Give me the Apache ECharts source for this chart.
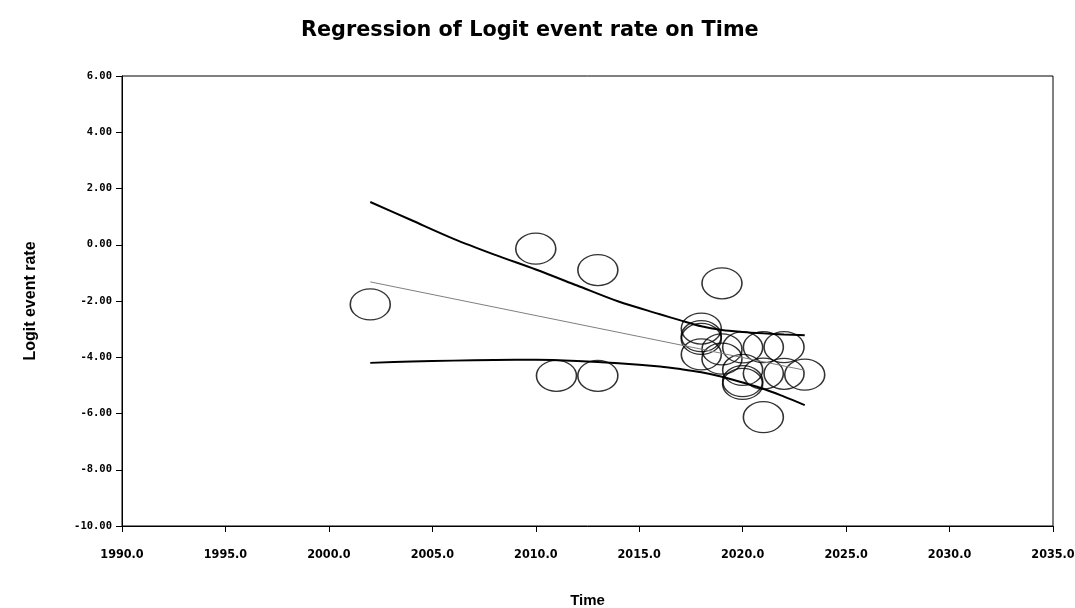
<!DOCTYPE html>
<html><head><meta charset="utf-8">
<script src="https://cdn.jsdelivr.net/npm/echarts@6/dist/echarts.min.js"></script>
<style>html,body{margin:0;padding:0;background:#fff}#c{width:1075px;height:608px}</style>
</head><body><div id="c"></div>
<script>
// Studies (circles)
const studyTime  = [2002, 2010, 2011, 2013, 2013, 2019, 2018, 2018, 2018, 2018, 2019, 2019, 2020, 2020, 2020, 2020, 2021, 2021, 2021, 2022, 2022, 2023];
const studyLogit = [-2.12, -0.14, -4.66, -0.90, -4.66, -1.37, -2.98, -3.25, -3.35, -3.90, -3.72, -4.05, -3.65, -4.45, -4.85, -4.95, -3.64, -4.58, -6.13, -3.64, -4.59, -4.62];
// Regression line and confidence limits
const regTime  = [2002, 2023];
const regLogit = [-1.32, -4.46];
const ciTime  = [2002, 2004, 2006, 2008, 2010, 2012, 2014, 2016, 2017, 2018, 2019, 2020, 2021, 2022, 2023];
const ciUpper = [1.52, 0.87, 0.22, -0.35, -0.88, -1.45, -2.02, -2.47, -2.69, -2.90, -3.03, -3.10, -3.15, -3.19, -3.22];
const ciLower = [-4.20, -4.15, -4.12, -4.10, -4.09, -4.13, -4.21, -4.33, -4.42, -4.53, -4.69, -4.90, -5.12, -5.40, -5.70];
// Axis settings
const xTicks = {min: 1990, max: 2035, interval: 5};
const yTicks = {min: -10, max: 6, interval: 2};

const zip = (a, b) => a.map((v, i) => [v, b[i]]);
const chart = echarts.init(document.getElementById('c'), null, {renderer: 'canvas'});
chart.setOption({
  animation: false,
  backgroundColor: '#fff',
  title: {
    text: 'Regression of Logit event rate on Time',
    left: 296, top: 15,
    textStyle: {fontFamily: 'DejaVu Sans', fontWeight: 'bold', fontSize: 20.8, color: '#000'}
  },
  grid: {left: 122, right: 22, top: 76, bottom: 82, containLabel: false, outerBoundsMode: 'none',
         show: true, borderColor: '#000', borderWidth: 1, backgroundColor: 'transparent'},
  xAxis: {
    type: 'value', min: xTicks.min, max: xTicks.max, interval: xTicks.interval,
    name: 'Time', nameLocation: 'middle', nameGap: 67,
    nameTextStyle: {fontFamily: 'Liberation Sans', fontWeight: 'bold', fontSize: 15, color: '#000'},
    axisLine: {show: true, onZero: false, lineStyle: {color: '#000', width: 1}},
    axisTick: {show: true, length: 6, lineStyle: {color: '#000'}},
    splitLine: {show: false},
    axisLabel: {margin: 22, formatter: v => v.toFixed(1), fontFamily: 'Liberation Sans Narrow, DejaVu Sans Condensed', fontWeight: 'bold', fontSize: 12.5, color: '#000'}
  },
  yAxis: {
    type: 'value', min: yTicks.min, max: yTicks.max, interval: yTicks.interval,
    name: 'Logit event rate', nameLocation: 'middle', nameGap: 83,
    nameTextStyle: {fontFamily: 'Liberation Sans', fontWeight: 'bold', fontSize: 16, color: '#000'},
    axisLine: {show: true, onZero: false, lineStyle: {color: '#000', width: 1}},
    axisTick: {show: true, length: 6, lineStyle: {color: '#000'}},
    splitLine: {show: false},
    axisLabel: {margin: 10, formatter: v => v.toFixed(2), fontFamily: 'DejaVu Sans Mono', fontWeight: 'bold', fontSize: 10.5, color: '#000'}
  },
  series: [
    {
      type: 'scatter', data: zip(studyTime, studyLogit), symbol: 'circle', symbolSize: [40, 31],
      itemStyle: {color: 'rgba(0,0,0,0)', borderColor: '#000', borderWidth: 1.4}, z: 2
    },
    {
      type: 'line', data: zip(regTime, regLogit), showSymbol: false,
      lineStyle: {color: '#7f7f7f', width: 1}, z: 3
    },
    {
      type: 'line', data: zip(ciTime, ciUpper), showSymbol: false, smooth: 0.3,
      lineStyle: {color: '#000', width: 2}, z: 3
    },
    {
      type: 'line', data: zip(ciTime, ciLower), showSymbol: false, smooth: 0.3,
      lineStyle: {color: '#000', width: 2}, z: 3
    }
  ]
});
</script></body></html>
